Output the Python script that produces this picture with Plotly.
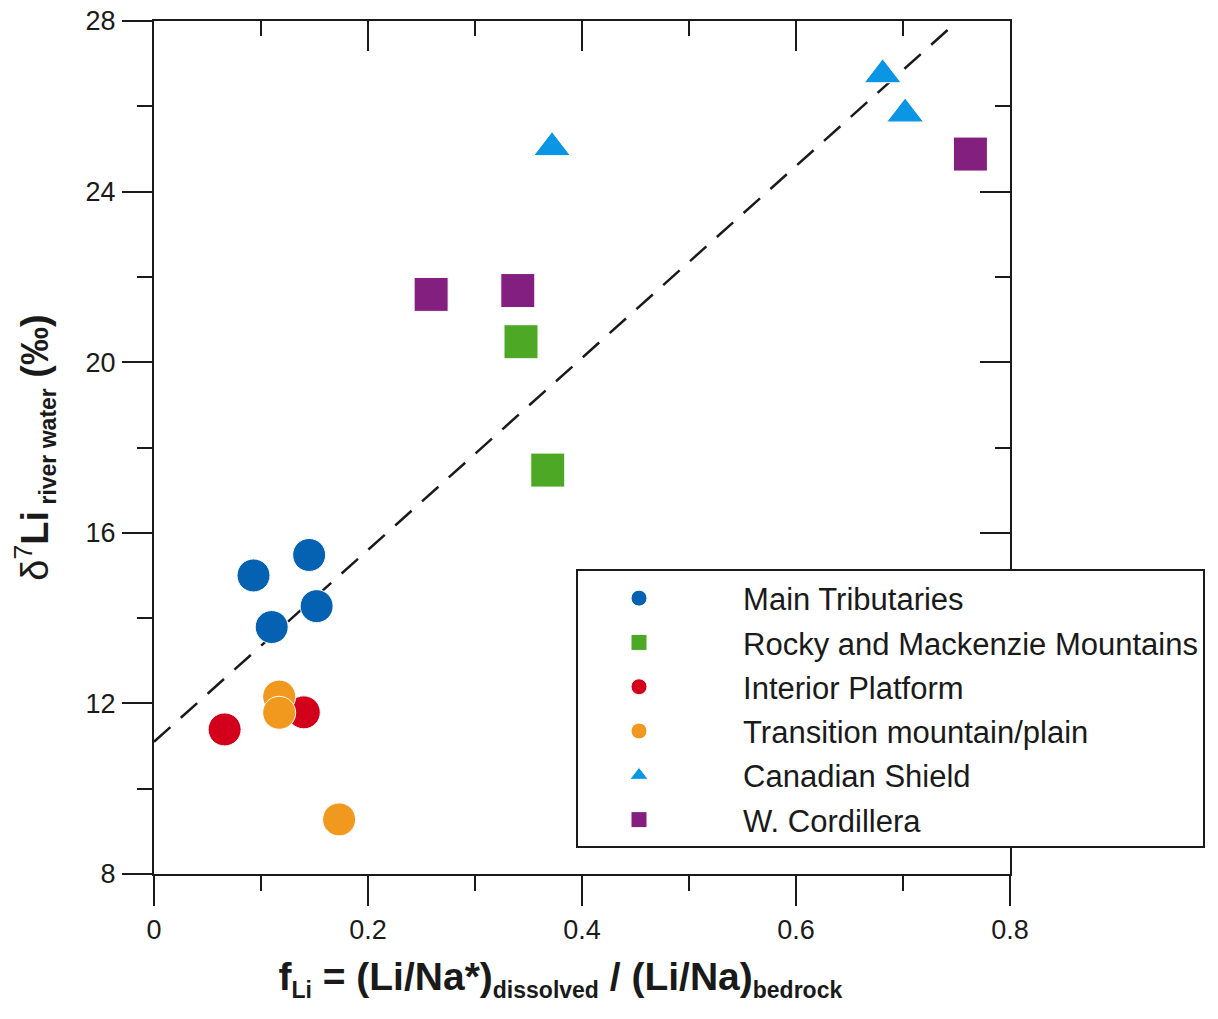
import plotly.graph_objects as go

# ---- data ----
main_trib_x = [0.093, 0.145, 0.152, 0.110]
main_trib_y = [15.0, 15.48, 14.28, 13.79]

rocky_x = [0.343, 0.368]
rocky_y = [20.48, 17.47]

interior_x = [0.066, 0.140]
interior_y = [11.39, 11.79]

transition_x = [0.117, 0.117, 0.173]
transition_y = [12.16, 11.78, 9.28]

shield_x = [0.681, 0.702, 0.372]
shield_y = [26.74, 25.82, 25.03]

cordillera_x = [0.259, 0.340, 0.763]
cordillera_y = [21.59, 21.68, 24.88]

fit_intercept = 11.1
fit_slope = 22.5
fit_x = [0.0, 0.743]
fit_y = [fit_intercept + fit_slope * v for v in fit_x]

x_ticks = [0, 0.2, 0.4, 0.6, 0.8]
x_tick_labels = ["0", "0.2", "0.4", "0.6", "0.8"]
y_ticks = [8, 12, 16, 20, 24, 28]
y_tick_labels = ["8", "12", "16", "20", "24", "28"]

FONT = "Liberation Sans, Arial, sans-serif"
PAD = "\u00a0" * 5
SUB = '<sub><span style="font-size:23px">{}</span></sub>'

series = [
    ("Main Tributaries", main_trib_x, main_trib_y, "circle", "#0562B3", 33),
    ("Rocky and Mackenzie Mountains", rocky_x, rocky_y, "square", "#4DA825", 34),
    ("Interior Platform", interior_x, interior_y, "circle", "#D3001B", 33),
    ("Transition mountain/plain", transition_x, transition_y, "circle", "#F0991E", 33),
    ("Canadian Shield", shield_x, shield_y, "triangle-up", "#0B95E5", 32),
    ("W. Cordillera", cordillera_x, cordillera_y, "square", "#83207F", 34),
]

fig = go.Figure()

fig.add_trace(go.Scatter(
    x=fit_x, y=fit_y, mode="lines", showlegend=False, hoverinfo="skip",
    line=dict(color="#1a1a1a", width=2.5, dash="22px,14px"),
))

for i, (name, xs, ys, sym, col, sz) in enumerate(series):
    fig.add_trace(go.Scatter(
        x=xs, y=ys, mode="markers", name=PAD + name,
        legendgroup=f"g{i}",
        marker=dict(symbol=sym, color=col, size=sz,
                    line=dict(color="white", width=1)),
    ))

# dummy trace to activate mirrored axes with inward ticks
fig.add_trace(go.Scatter(x=[None], y=[None], xaxis="x2", yaxis="y2",
                         showlegend=False, hoverinfo="skip"))

axis_common = dict(showgrid=False, zeroline=False, showline=True,
                   linecolor="#1a1a1a", linewidth=2, tickcolor="#1a1a1a",
                   tickwidth=2, ticklen=30, automargin=False)

x_title = ("<b>f" + SUB.format("Li") + " = (Li/Na*)" + SUB.format("dissolved")
           + " / (Li/Na)" + SUB.format("bedrock") + "\u00a0" * 4 + "</b>")
y_title = ("δ<sup>7</sup><b>Li</b><b>" + SUB.format(" river water")
           + " (‰)</b>")

fig.update_layout(
    width=1210, height=1011,
    margin=dict(l=146, r=208, t=13, b=145, autoexpand=False),
    paper_bgcolor="white", plot_bgcolor="white",
    font=dict(family=FONT, size=27, color="#1a1a1a"),
    xaxis=dict(
        range=[0, 0.8], tickvals=x_ticks, ticktext=x_tick_labels,
        ticks="outside", ticklabelstandoff=1, ticklabeloverflow="allow",
        minor=dict(dtick=0.1, ticks="outside", ticklen=15, tickwidth=2,
                   tickcolor="#1a1a1a"),
        title=dict(text=x_title, font=dict(size=39), standoff=18),
        **axis_common,
    ),
    yaxis=dict(
        range=[8, 28], tickvals=y_ticks, ticktext=y_tick_labels,
        ticks="outside", ticklabelstandoff=1, ticklabeloverflow="allow",
        minor=dict(dtick=2, ticks="outside", ticklen=15, tickwidth=2,
                   tickcolor="#1a1a1a"),
        title=dict(text=y_title, font=dict(size=38), standoff=27),
        **axis_common,
    ),
    xaxis2=dict(
        overlaying="x", side="top", anchor="y", range=[0, 0.8],
        tickvals=x_ticks, showticklabels=False, ticks="inside",
        minor=dict(dtick=0.1, ticks="inside", ticklen=15, tickwidth=2,
                   tickcolor="#1a1a1a"),
        **axis_common,
    ),
    yaxis2=dict(
        overlaying="y", side="right", anchor="x", range=[8, 28],
        tickvals=y_ticks, showticklabels=False, ticks="inside",
        minor=dict(dtick=2, ticks="inside", ticklen=15, tickwidth=2,
                   tickcolor="#1a1a1a"),
        **axis_common,
    ),
    legend=dict(
        x=0.493, y=0.357, xanchor="left", yanchor="top",
        bgcolor="white", bordercolor="#1a1a1a", borderwidth=2,
        font=dict(family=FONT, size=31, color="#1a1a1a"),
        itemwidth=112, tracegroupgap=1,
    ),
)

fig.write_html("out.html")
